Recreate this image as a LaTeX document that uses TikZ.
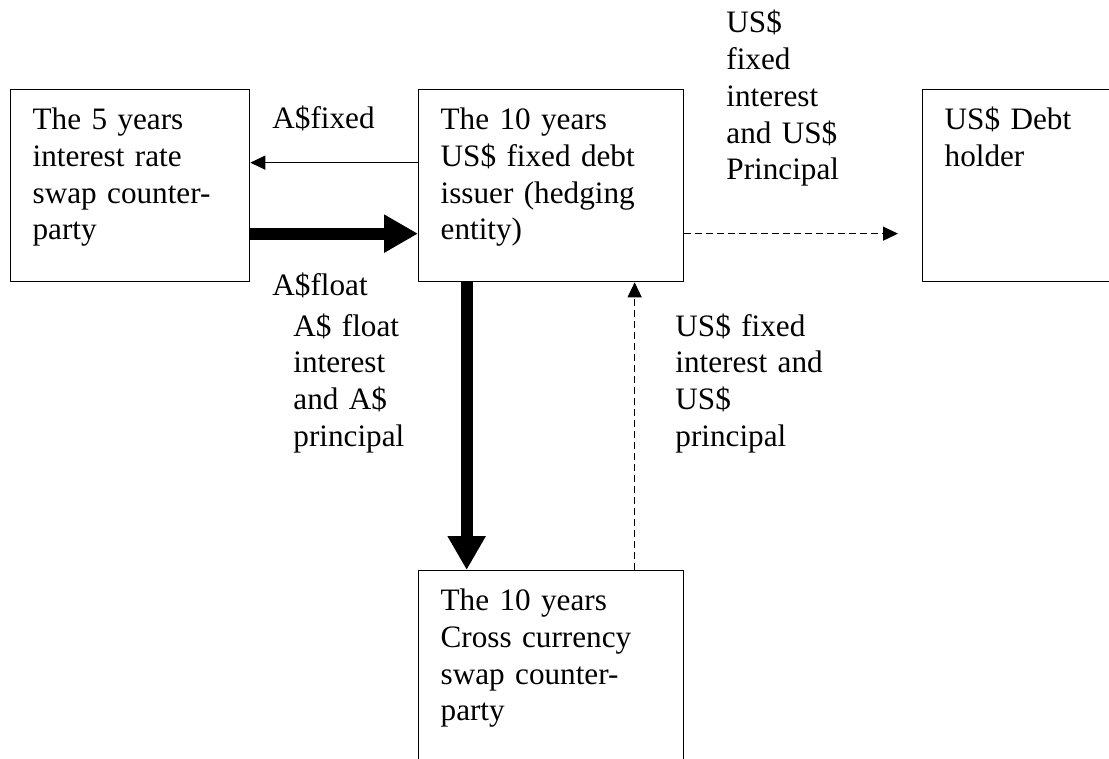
\documentclass[tikz,border=0pt]{standalone}
\usepackage{fontspec}
\setmainfont{Liberation Serif}
\usetikzlibrary{arrows.meta}

\begin{document}
\begin{tikzpicture}[x=0.5pt,y=-0.5pt,
		every node/.style={font=\fontsize{15.6pt}{18.35pt}\selectfont},
		box/.style={draw,line width=0.65pt,anchor=north west,align=left,inner xsep=11pt,inner ysep=9pt,text height=11pt},
		lbl/.style={anchor=base west,align=left,inner sep=0pt,text width=90pt},
		thinarr/.style={line width=0.6pt,-{Triangle[length=7.5pt,width=7pt]}},
		fatarr/.style={line width=6pt,-{Triangle[length=17pt,width=18pt]}},
		dasharr/.style={line width=0.6pt,dash pattern=on 3.5pt off 2pt,-{Triangle[length=7.5pt,width=7pt]}}]
		\useasboundingbox (0,0) rectangle (1109,759);
		% the four parties
		\node[box,text width=97.5pt,text depth=67pt] (swap5) at (10,89) {The 5 years\\interest rate\\swap counter-\\party};
		\node[box,text width=110.5pt,text depth=67pt] (issuer) at (418,89) {The 10 years\\US\$ fixed debt\\issuer (hedging\\entity)};
		\node[box,text width=128pt,text depth=67pt] (holder) at (922,89) {US\$ Debt\\holder};
		\node[box,text width=110.5pt,text depth=100pt] (ccs) at (418,570) {The 10 years\\Cross currency\\swap counter-\\party};
		% flows
		\draw[thinarr] ([yshift=11.5pt]issuer.west) -- ([yshift=11.5pt]swap5.east);
		\draw[fatarr] ([yshift=-24pt]swap5.east) -- ([yshift=-24pt]issuer.west);
		\draw[dasharr] ([yshift=-24pt]issuer.east) -- ([xshift=-12pt,yshift=-24pt]holder.west);
		\draw[fatarr] ([xshift=-42.25pt]issuer.south) -- ([xshift=-42.25pt]ccs.north);
		\draw[dasharr] ([xshift=41.75pt]ccs.north) -- ([xshift=41.75pt]issuer.south);
		% labels
		\node[lbl] (fixedlbl) at (272,129) {A\$fixed};
		\begin{scope}
			\clip (250,260) rectangle (420,298);
			\node[lbl] (floatlbl) at (272,296) {A\$float};
		\end{scope}
		\node[lbl] (uslbl) at (726,33) {US\$\\fixed\\interest\\and US\$\\Principal};
		\node[lbl] (audlbl) at (293,336) {A\$ float\\interest\\and A\$\\principal};
		\node[lbl] (usdlbl) at (675,336) {US\$ fixed\\interest and\\US\$\\principal};
\end{tikzpicture}
\end{document}
